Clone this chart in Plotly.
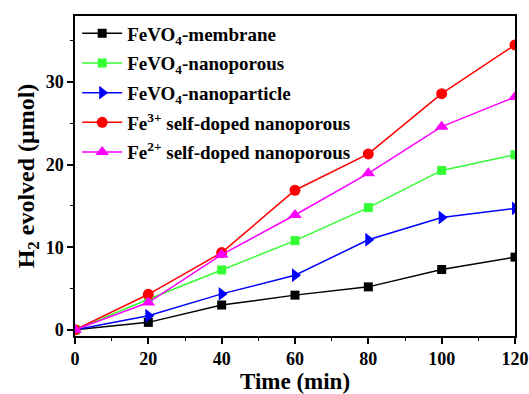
import plotly.graph_objects as go

time_min = [0, 20, 40, 60, 80, 100, 120]

membrane = [0.0, 0.9, 3.0, 4.2, 5.2, 7.3, 8.8]
nanoporous = [0.0, 3.7, 7.25, 10.8, 14.8, 19.3, 21.2]
nanoparticle = [0.0, 1.7, 4.35, 6.6, 10.9, 13.6, 14.7]
fe3_doped = [0.0, 4.3, 9.35, 16.9, 21.3, 28.6, 34.5]
fe2_doped = [0.0, 3.3, 9.1, 13.9, 18.95, 24.6, 28.2]

series = [
    ("FeVO<sub>4</sub>-membrane", membrane, "#000000", "square", 9),
    ("FeVO<sub>4</sub>-nanoporous", nanoporous, "#33ff33", "square", 9),
    ("FeVO<sub>4</sub>-nanoparticle", nanoparticle, "#0000ff", "triangle-right", 12),
    ("Fe<sup>3+</sup> self-doped nanoporous", fe3_doped, "#ff0000", "circle", 11),
    ("Fe<sup>2+</sup> self-doped nanoporous", fe2_doped, "#ff00ff", "triangle-up", 12),
]

fig = go.Figure()
for i, (name, vals, color, symbol, size) in enumerate(series):
    fig.add_trace(go.Scatter(
        x=time_min, y=vals, name=name, mode="lines+markers",
        line=dict(color=color, width=1.5),
        marker=dict(symbol=symbol, size=size, color=color),
        legendgroup=f"g{i}",
    ))

font_family = "Liberation Serif, Times New Roman, serif"

axis_common = dict(
    showline=True, linecolor="black", linewidth=1.5, mirror=True,
    ticks="outside", ticklen=6, tickwidth=1.5, tickcolor="black",
    showgrid=False, zeroline=False, automargin=False,
    tickfont=dict(family=font_family, size=18, color="black", weight="bold"),
)

fig.update_xaxes(
    range=[0, 120], tickvals=[0, 20, 40, 60, 80, 100, 120],
    minor=dict(ticks="outside", dtick=10, ticklen=3, tickwidth=1.2, tickcolor="black"),
    title=dict(text="<b>Time (min)</b>", font=dict(family=font_family, size=23, color="black"), standoff=4),
    **axis_common,
)
fig.update_yaxes(
    range=[-0.75, 38], tickvals=[0, 10, 20, 30],
    minor=dict(ticks="outside", dtick=5, ticklen=3, tickwidth=1.2, tickcolor="black"),
    title=dict(text="<b>H<sub>2</sub> evolved (μmol)</b>", font=dict(family=font_family, size=24, color="black"), standoff=4),
    **axis_common,
)

fig.update_layout(
    width=529, height=394,
    margin=dict(l=75, r=14, t=16, b=58),
    paper_bgcolor="white", plot_bgcolor="white",
    showlegend=True,
    legend=dict(
        x=0.005, y=1.005, xanchor="left", yanchor="top",
        bgcolor="rgba(0,0,0,0)", borderwidth=0,
        font=dict(family=font_family, size=19, color="black", weight="bold"),
        tracegroupgap=2, itemwidth=40,
    ),
)

fig.write_html("out.html")
